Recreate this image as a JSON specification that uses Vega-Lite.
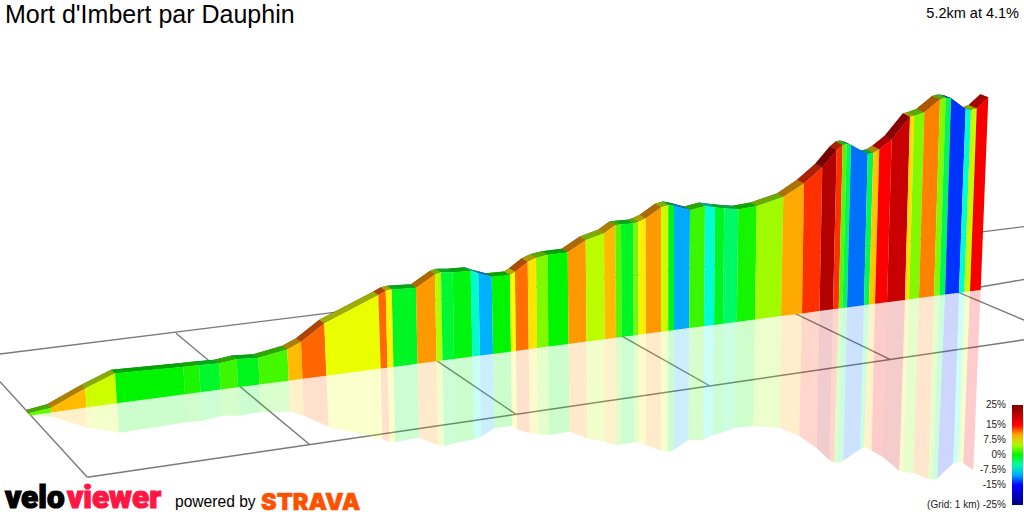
{"$schema":"https://vega.github.io/schema/vega-lite/v6.json","width":1024,"height":512,"padding":0,"autosize":"none","background":"#ffffff","config":{"view":{"stroke":null},"font":"Liberation Sans"},"title":{"text":"Mort d'Imbert par Dauphin","anchor":"start","frame":"group","offset":0,"dx":5,"dy":28,"fontSize":25,"fontWeight":"normal","font":"Liberation Sans","color":"#000000"},
"datasets":{"seg":[
{"s":0,"g":3,"x":[29,51,51.5,29.5],"y":[413,407.7,412.5,415.5],"rx":[29,51,47,26],"ry":[413,407.7,404.2,410],"fx":[29.5,51.5,52,30],"fy":[415.5,412.5,416.7,416]},
{"s":1,"g":9.5,"x":[51,85.3,86.5,51.5],"y":[407.7,388.3,407.5,412.5],"rx":[51,85.3,81.3,47],"ry":[407.7,388.3,384.8,404.2],"fx":[51.5,86.5,87.5,52],"fy":[412.5,407.5,427.7,416.7]},
{"s":2,"g":6,"x":[85.3,115,117,86.5],"y":[388.3,373.3,403.2,407.5],"rx":[85.3,115,111,81.3],"ry":[388.3,373.3,369.8,384.8],"fx":[86.5,117,119.3,87.5],"fy":[407.5,403.2,432.7,427.7]},
{"s":3,"g":0,"x":[115,183.3,185,117],"y":[373.3,366.7,394.2,403.2],"rx":[115,183.3,178.3,111],"ry":[373.3,366.7,363.2,369.8],"fx":[117,185,186.5,119.3],"fy":[403.2,394.2,422.3,432.7]},
{"s":4,"g":0.8,"x":[183.3,199,200.5,185],"y":[366.7,365,392.2,394.2],"rx":[183.3,199,194,178.3],"ry":[366.7,365,361.5,363.2],"fx":[185,200.5,202,186.5],"fy":[394.2,392.2,421,422.3]},
{"s":5,"g":-1.2,"x":[199,219,220.5,200.5],"y":[365,363.3,389.6,392.2],"rx":[199,219,214,194],"ry":[365,363.3,359.8,361.5],"fx":[200.5,220.5,222,202],"fy":[392.2,389.6,415.7,421]},
{"s":6,"g":1.8,"x":[219,236.7,238,220.5],"y":[363.3,359,387.3,389.6],"rx":[219,236.7,231.7,214],"ry":[363.3,359,355.5,359.8],"fx":[220.5,238,239.5,222],"fy":[389.6,387.3,415.7,415.7]},
{"s":7,"g":-0.8,"x":[236.7,258.3,259.5,238],"y":[359,357.7,384.5,387.3],"rx":[236.7,258.3,253.3,231.7],"ry":[359,357.7,354.2,355.5],"fx":[238,259.5,261,239.5],"fy":[387.3,384.5,412,415.7]},
{"s":8,"g":2,"x":[258.3,287.3,288.7,259.5],"y":[357.7,349.3,380.7,384.5],"rx":[258.3,287.3,282.3,253.3],"ry":[357.7,349.3,345.8,354.2],"fx":[259.5,288.7,290,261],"fy":[384.5,380.7,411.7,412]},
{"s":9,"g":9.5,"x":[287.3,301,302.6,288.7],"y":[349.3,341.7,378.8,380.7],"rx":[287.3,301,296,282.3],"ry":[349.3,341.7,338.2,345.8],"fx":[288.7,302.6,304,290],"fy":[380.7,378.8,415.7,411.7]},
{"s":10,"g":12,"x":[301,324.3,326.4,302.6],"y":[341.7,323.3,375.7,378.8],"rx":[301,324.3,319.3,296],"ry":[341.7,323.3,319.8,338.2],"fx":[302.6,326.4,328.5,304],"fy":[378.8,375.7,426.7,415.7]},
{"s":11,"g":6.9,"x":[324.3,378.3,380.7,326.4],"y":[323.3,295,368.6,375.7],"rx":[324.3,378.3,373.3,319.3],"ry":[323.3,295,291.5,319.8],"fx":[326.4,380.7,382.5,328.5],"fy":[375.7,368.6,439,426.7]},
{"s":12,"g":11.9,"x":[378.3,385.7,387.5,380.7],"y":[295,290.7,367.7,368.6],"rx":[378.3,385.7,380.7,373.3],"ry":[295,290.7,287.2,291.5],"fx":[380.7,387.5,389.5,382.5],"fy":[368.6,367.7,441.7,439]},
{"s":13,"g":7.8,"x":[385.7,391.7,393.5,387.5],"y":[290.7,289.3,366.9,367.7],"rx":[385.7,391.7,386.7,380.7],"ry":[290.7,289.3,285.8,287.2],"fx":[387.5,393.5,395,389.5],"fy":[367.7,366.9,442.3,441.7]},
{"s":14,"g":-1,"x":[391.7,416,417.5,393.5],"y":[289.3,287.7,363.8,366.9],"rx":[391.7,416,411,386.7],"ry":[289.3,287.7,284.2,285.8],"fx":[393.5,417.5,419,395],"fy":[366.9,363.8,437.7,442.3]},
{"s":15,"g":10.5,"x":[416,435,436.5,417.5],"y":[287.7,274.3,361.3,363.8],"rx":[416,435,430,411],"ry":[287.7,274.3,270.8,284.2],"fx":[417.5,436.5,438,419],"fy":[363.8,361.3,445,437.7]},
{"s":16,"g":5.3,"x":[435,441,442.5,436.5],"y":[274.3,272.3,360.5,361.3],"rx":[435,441,436,430],"ry":[274.3,272.3,268.8,270.8],"fx":[436.5,442.5,444.5,438],"fy":[361.3,360.5,446,445]},
{"s":17,"g":-1.5,"x":[441,452.7,454,442.5],"y":[272.3,272.3,359,360.5],"rx":[441,452.7,446.7,436],"ry":[272.3,272.3,268.8,268.8],"fx":[442.5,454,456,444.5],"fy":[360.5,359,442.7,446]},
{"s":18,"g":-0.5,"x":[452.7,470.7,472.5,454],"y":[272.3,270.7,356.6,359],"rx":[452.7,470.7,464.7,446.7],"ry":[272.3,270.7,267.2,268.8],"fx":[454,472.5,474,456],"fy":[359,356.6,439.3,442.7]},
{"s":19,"g":-6,"x":[470.7,478.3,480,472.5],"y":[270.7,273.3,355.6,356.6],"rx":[470.7,478.3,472.3,464.7],"ry":[270.7,273.3,269.8,267.2],"fx":[472.5,480,481,474],"fy":[356.6,355.6,436.7,439.3]},
{"s":20,"g":-9.8,"x":[478.3,491.7,493,480],"y":[273.3,276.7,353.9,355.6],"rx":[478.3,491.7,485.7,472.3],"ry":[273.3,276.7,273.2,269.8],"fx":[480,493,494,481],"fy":[355.6,353.9,428.3,436.7]},
{"s":21,"g":0,"x":[491.7,510,511,493],"y":[276.7,275,351.5,353.9],"rx":[491.7,510,504,485.7],"ry":[276.7,275,271.5,273.2],"fx":[493,511,512,494],"fy":[353.9,351.5,426,428.3]},
{"s":22,"g":7.5,"x":[510,515,516,511],"y":[275,271.7,350.9,351.5],"rx":[510,515,509,504],"ry":[275,271.7,268.2,271.5],"fx":[511,516,517,512],"fy":[351.5,350.9,429,426]},
{"s":23,"g":11.7,"x":[515,527.7,528.7,516],"y":[271.7,261.7,349.2,350.9],"rx":[515,527.7,521.7,509],"ry":[271.7,261.7,258.2,268.2],"fx":[516,528.7,529.7,517],"fy":[350.9,349.2,433.3,429]},
{"s":24,"g":8.3,"x":[527.7,536,537,528.7],"y":[261.7,257.7,348.1,349.2],"rx":[527.7,536,530,521.7],"ry":[261.7,257.7,254.2,258.2],"fx":[528.7,537,538,529.7],"fy":[349.2,348.1,434.3,433.3]},
{"s":25,"g":3.8,"x":[536,547.7,548.3,537],"y":[257.7,254.7,346.6,348.1],"rx":[536,547.7,541.7,530],"ry":[257.7,254.7,251.2,254.2],"fx":[537,548.3,549,538],"fy":[348.1,346.6,435,434.3]},
{"s":26,"g":0,"x":[547.7,567.7,568.5,548.3],"y":[254.7,252.3,344,346.6],"rx":[547.7,567.7,561.7,541.7],"ry":[254.7,252.3,248.8,251.2],"fx":[548.3,568.5,569.5,549],"fy":[346.6,344,431.7,435]},
{"s":27,"g":10.5,"x":[567.7,585.7,586.5,568.5],"y":[252.3,240,341.6,344],"rx":[567.7,585.7,579.7,561.7],"ry":[252.3,240,236.5,248.8],"fx":[568.5,586.5,587,569.5],"fy":[344,341.6,438.3,431.7]},
{"s":28,"g":5.5,"x":[585.7,604,604.7,586.5],"y":[240,233.3,339.2,341.6],"rx":[585.7,604,598,579.7],"ry":[240,233.3,229.8,236.5],"fx":[586.5,604.7,605,587],"fy":[341.6,339.2,441.7,438.3]},
{"s":29,"g":9.5,"x":[604,615.3,616,604.7],"y":[233.3,225,337.7,339.2],"rx":[604,615.3,609.3,598],"ry":[233.3,225,221.5,229.8],"fx":[604.7,616,616.5,605],"fy":[339.2,337.7,445,441.7]},
{"s":30,"g":2.5,"x":[615.3,621,621.5,616],"y":[225,224.3,337,337.7],"rx":[615.3,621,615,609.3],"ry":[225,224.3,220.8,221.5],"fx":[616,621.5,622,616.5],"fy":[337.7,337,444.3,445]},
{"s":31,"g":-1,"x":[621,633.3,633.7,621.5],"y":[224.3,223.3,335.4,337],"rx":[621,633.3,627.3,615],"ry":[224.3,223.3,219.8,220.8],"fx":[621.5,633.7,634,622],"fy":[337,335.4,442.3,444.3]},
{"s":32,"g":3.5,"x":[633.3,638.3,638.7,633.7],"y":[223.3,221.7,334.8,335.4],"rx":[633.3,638.3,632.3,627.3],"ry":[223.3,221.7,218.2,219.8],"fx":[633.7,638.7,639,634],"fy":[335.4,334.8,442.7,442.3]},
{"s":33,"g":8,"x":[638.3,645.7,646,638.7],"y":[221.7,218.3,333.8,334.8],"rx":[638.3,645.7,639.7,632.3],"ry":[221.7,218.3,214.8,218.2],"fx":[638.7,646,646,639],"fy":[334.8,333.8,445,442.7]},
{"s":34,"g":10.5,"x":[645.7,661,661,646],"y":[218.3,207.3,331.8,333.8],"rx":[645.7,661,655,639.7],"ry":[218.3,207.3,203.8,214.8],"fx":[646,661,661,646],"fy":[333.8,331.8,450.7,445]},
{"s":35,"g":6,"x":[661,668.3,668.3,661],"y":[207.3,205,330.9,331.8],"rx":[661,668.3,662.3,655],"ry":[207.3,205,201.5,203.8],"fx":[661,668.3,668,661],"fy":[331.8,330.9,451.7,450.7]},
{"s":36,"g":-0.8,"x":[668.3,674,674,668.3],"y":[205,205.7,330.1,330.9],"rx":[668.3,674,668,662.3],"ry":[205,205.7,202.2,201.5],"fx":[668.3,674,673.5,668],"fy":[330.9,330.1,450,451.7]},
{"s":37,"g":-10,"x":[674,690,689.3,674],"y":[205.7,210,328.1,330.1],"rx":[674,690,684,668],"ry":[205.7,210,206.5,202.2],"fx":[674,689.3,688.3,673.5],"fy":[330.1,328.1,440,450]},
{"s":38,"g":1.7,"x":[690,705,704,689.3],"y":[210,206,326.2,328.1],"rx":[690,705,699,684],"ry":[210,206,202.5,206.5],"fx":[689.3,704,703.3,688.3],"fy":[328.1,326.2,440,440]},
{"s":39,"g":-6.3,"x":[705,715,714,704],"y":[206,207.3,324.9,326.2],"rx":[705,715,709,699],"ry":[206,207.3,203.8,202.5],"fx":[704,714,712.7,703.3],"fy":[326.2,324.9,435,440]},
{"s":40,"g":-1,"x":[715,724.3,723,714],"y":[207.3,208.3,323.7,324.9],"rx":[715,724.3,718.3,709],"ry":[207.3,208.3,204.8,203.8],"fx":[714,723,722,712.7],"fy":[324.9,323.7,432.7,435]},
{"s":41,"g":-3,"x":[724.3,738.3,736.8,723],"y":[208.3,209.3,321.9,323.7],"rx":[724.3,738.3,732.3,718.3],"ry":[208.3,209.3,205.8,204.8],"fx":[723,736.8,735,722],"fy":[323.7,321.9,427.7,432.7]},
{"s":42,"g":0.6,"x":[738.3,756.7,755,736.8],"y":[209.3,206,319.5,321.9],"rx":[738.3,756.7,750.7,732.3],"ry":[209.3,206,202.5,205.8],"fx":[736.8,755,753.3,735],"fy":[321.9,319.5,426,427.7]},
{"s":43,"g":4.7,"x":[756.7,783.3,781,755],"y":[206,196.7,316.1,319.5],"rx":[756.7,783.3,777.3,750.7],"ry":[206,196.7,193.2,202.5],"fx":[755,781,780,753.3],"fy":[319.5,316.1,428.3,426]},
{"s":44,"g":10,"x":[783.3,804,802,781],"y":[196.7,183.3,313.4,316.1],"rx":[783.3,804,797,777.3],"ry":[196.7,183.3,179.8,193.2],"fx":[781,802,799.3,780],"fy":[316.1,313.4,436,428.3]},
{"s":45,"g":13.6,"x":[804,822.3,819.5,802],"y":[183.3,167.3,311.1,313.4],"rx":[804,822.3,815.3,797],"ry":[183.3,167.3,163.8,179.8],"fx":[802,819.5,816.7,799.3],"fy":[313.4,311.1,448.3,436]},
{"s":46,"g":21,"x":[822.3,836.7,833,819.5],"y":[167.3,150,309.3,311.1],"rx":[822.3,836.7,829.7,815.3],"ry":[167.3,150,146.5,163.8],"fx":[819.5,833,829.3,816.7],"fy":[311.1,309.3,460,448.3]},
{"s":47,"g":13.6,"x":[836.7,842.7,838.7,833],"y":[150,145,308.5,309.3],"rx":[836.7,842.7,835.7,829.7],"ry":[150,145,141.5,146.5],"fx":[833,838.7,834,829.3],"fy":[309.3,308.5,462.3,460]},
{"s":48,"g":2.5,"x":[842.7,846.7,842.5,838.7],"y":[145,144,308,308.5],"rx":[842.7,846.7,839.7,835.7],"ry":[145,144,140.5,141.5],"fx":[838.7,842.5,837.7,834],"fy":[308.5,308,462.7,462.3]},
{"s":49,"g":-2.5,"x":[846.7,851,847,842.5],"y":[144,145,307.4,308],"rx":[846.7,851,844,839.7],"ry":[144,145,141.5,140.5],"fx":[842.5,847,843.3,837.7],"fy":[308,307.4,460.7,462.7]},
{"s":50,"g":-11.7,"x":[851,867.7,864,847],"y":[145,154,305.2,307.4],"rx":[851,867.7,860.7,844],"ry":[145,154,150.5,141.5],"fx":[847,864,860,843.3],"fy":[307.4,305.2,449.3,460.7]},
{"s":51,"g":-2.5,"x":[867.7,873.3,869,864],"y":[154,152.7,304.6,305.2],"rx":[867.7,873.3,866.3,860.7],"ry":[154,152.7,149.2,150.5],"fx":[864,869,864,860],"fy":[305.2,304.6,446.7,449.3]},
{"s":52,"g":9.2,"x":[873.3,879.3,875,869],"y":[152.7,149.3,303.8,304.6],"rx":[873.3,879.3,872.3,866.3],"ry":[152.7,149.3,145.8,149.2],"fx":[869,875,871.7,864],"fy":[304.6,303.8,450.7,446.7]},
{"s":53,"g":15,"x":[879.3,891.7,887,875],"y":[149.3,139.3,302.2,303.8],"rx":[879.3,891.7,884.7,872.3],"ry":[149.3,139.3,135.8,145.8],"fx":[875,887,882.7,871.7],"fy":[303.8,302.2,457,450.7]},
{"s":54,"g":19.3,"x":[891.7,910,905,887],"y":[139.3,116.7,299.9,302.2],"rx":[891.7,910,903,884.7],"ry":[139.3,116.7,113.2,135.8],"fx":[887,905,899.3,882.7],"fy":[302.2,299.9,471,457]},
{"s":55,"g":8.5,"x":[910,914.3,909,905],"y":[116.7,115.7,299.3,299.9],"rx":[910,914.3,907.3,903],"ry":[116.7,115.7,112.2,113.2],"fx":[905,909,902.7,899.3],"fy":[299.9,299.3,472,471]},
{"s":56,"g":3.8,"x":[914.3,924.3,919,909],"y":[115.7,112.3,298,299.3],"rx":[914.3,924.3,916.3,907.3],"ry":[115.7,112.3,109,112.2],"fx":[909,919,913.3,902.7],"fy":[299.3,298,472.7,472]},
{"s":57,"g":11.2,"x":[924.3,940,934,919],"y":[112.3,99.3,296,298],"rx":[924.3,940,932,916.3],"ry":[112.3,99.3,96,109],"fx":[919,934,928.3,913.3],"fy":[298,296,479,472.7]},
{"s":58,"g":3.8,"x":[940,945.7,939.3,934],"y":[99.3,97.7,295.4,296],"rx":[940,945.7,937.7,932],"ry":[99.3,97.7,94.5,96],"fx":[934,939.3,932.7,928.3],"fy":[296,295.4,479.7,479]},
{"s":59,"g":-2.5,"x":[945.7,951,945,939.3],"y":[97.7,98.3,294.6,295.4],"rx":[945.7,951,943,937.7],"ry":[97.7,98.3,95,94.5],"fx":[939.3,945,937.3,932.7],"fy":[295.4,294.6,478.3,479.7]},
{"s":60,"g":-13.5,"x":[951,965.7,959,945],"y":[98.3,109.3,292.8,294.6],"rx":[951,965.7,957.7,943],"ry":[98.3,109.3,106,95],"fx":[945,959,953.3,937.3],"fy":[294.6,292.8,463.3,478.3]},
{"s":61,"g":-6,"x":[965.7,971,964.3,959],"y":[109.3,110,292.1,292.8],"rx":[965.7,971,963,957.7],"ry":[109.3,110,107,106],"fx":[959,964.3,958.3,953.3],"fy":[292.8,292.1,461.7,463.3]},
{"s":62,"g":5.7,"x":[971,976.7,970,964.3],"y":[110,108.3,291.3,292.1],"rx":[971,976.7,968.7,963],"ry":[110,108.3,105,107],"fx":[964.3,970,963.3,958.3],"fy":[292.1,291.3,463.3,461.7]},
{"s":63,"g":15.5,"x":[976.7,988.3,980.7,970],"y":[108.3,97.3,290,291.3],"rx":[976.7,988.3,980.3,968.7],"ry":[108.3,97.3,94.2,105],"fx":[970,980.7,973.3,963.3],"fy":[291.3,290,470,463.3]}
],
"grid":[
{"x":0,"y":354,"x2":1024,"y2":226.6},
{"x":87.3,"y":477.3,"x2":1024,"y2":339.8},
{"x":0,"y":381.7,"x2":87.3,"y2":477.3},
{"x":176,"y":333.3,"x2":309.3,"y2":444.3},
{"x":436.7,"y":360.7,"x2":516,"y2":414.3},
{"x":621,"y":335.7,"x2":710,"y2":386},
{"x":793.3,"y":312.7,"x2":890,"y2":359.3},
{"x":956.7,"y":291.7,"x2":1024,"y2":320},
{"x":960,"y":290.5,"x2":1024,"y2":279.5}
]},
"encoding":{"x":{"type":"quantitative","scale":{"domain":[0,1024],"range":[0,1024],"nice":false,"zero":false},"axis":null},"y":{"type":"quantitative","scale":{"domain":[0,512],"range":[0,512],"nice":false,"zero":false},"axis":null}},
"layer":[
{"data":{"name":"grid"},"mark":{"type":"rule","color":"#7a7a7a","strokeWidth":1.4},"encoding":{"x":{"field":"x","type":"quantitative"},"y":{"field":"y","type":"quantitative"},"x2":{"field":"x2"},"y2":{"field":"y2"}}},
{"data":{"name":"seg"},"transform":[{"flatten":["fx","fy"],"as":["px","py"]},{"window":[{"op":"row_number","as":"o"}]}],"mark":{"type":"line","filled":true,"fillOpacity":0.2,"strokeWidth":0},"encoding":{"x":{"field":"px","type":"quantitative"},"y":{"field":"py","type":"quantitative"},"detail":{"field":"s"},"order":{"field":"o"},"color":{"field":"g","type":"quantitative"}}},
{"data":{"name":"seg"},"transform":[{"flatten":["rx","ry"],"as":["px","py"]},{"window":[{"op":"row_number","as":"o"}]}],"mark":{"type":"line","filled":true,"color":"#000000","strokeWidth":0},"encoding":{"x":{"field":"px","type":"quantitative"},"y":{"field":"py","type":"quantitative"},"detail":{"field":"s"},"order":{"field":"o"}}},
{"data":{"name":"seg"},"transform":[{"flatten":["rx","ry"],"as":["px","py"]},{"window":[{"op":"row_number","as":"o"}]}],"mark":{"type":"line","filled":true,"fillOpacity":0.68,"strokeWidth":0},"encoding":{"x":{"field":"px","type":"quantitative"},"y":{"field":"py","type":"quantitative"},"detail":{"field":"s"},"order":{"field":"o"},"color":{"field":"g","type":"quantitative"}}},
{"data":{"name":"seg"},"transform":[{"flatten":["x","y"],"as":["px","py"]},{"window":[{"op":"row_number","as":"o"}]}],"mark":{"type":"line","filled":true,"strokeWidth":0},"encoding":{"x":{"field":"px","type":"quantitative"},"y":{"field":"py","type":"quantitative"},"detail":{"field":"s"},"order":{"field":"o"},"color":{"field":"g","type":"quantitative","title":null,"scale":{"type":"linear","interpolate":"rgb","domain":[-25,-15,-7.5,0,7.5,15,25],"range":["#000080","#0000ff","#00ffff","#00f500","#ffff00","#ff0000","#800000"]},"legend":{"type":"gradient","orient":"none","legendX":1012,"legendY":405,"gradientLength":100,"gradientThickness":11,"gradientStrokeWidth":0,"values":[-25,25],"labelOverlap":false,"labelFontSize":1,"labelOpacity":0,"labelExpr":"''"}}}},
{"data":{"values":[{"t":"25%","x":1006,"y":405},{"t":"15%","x":1006,"y":425},{"t":"7.5%","x":1006,"y":440},{"t":"0%","x":1006,"y":455},{"t":"-7.5%","x":1006,"y":470},{"t":"-15%","x":1006,"y":485},{"t":"(Grid: 1 km) -25%","x":1006,"y":505}]},"mark":{"type":"text","align":"right","baseline":"middle","fontSize":10,"font":"Liberation Sans","color":"#222222"},"encoding":{"x":{"field":"x","type":"quantitative"},"y":{"field":"y","type":"quantitative"},"text":{"field":"t"}}},
{"data":{"values":[{"t":"5.2km at 4.1%","x":1019,"y":18}]},"mark":{"type":"text","align":"right","baseline":"alphabetic","fontSize":14.5,"font":"Liberation Sans","color":"#000000"},"encoding":{"x":{"field":"x","type":"quantitative"},"y":{"field":"y","type":"quantitative"},"text":{"field":"t"}}},
{"data":{"values":[{"t":"powered by","x":175,"y":507}]},"mark":{"type":"text","align":"left","baseline":"alphabetic","fontSize":15.6,"font":"Liberation Sans","color":"#000000"},"encoding":{"x":{"field":"x","type":"quantitative"},"y":{"field":"y","type":"quantitative"},"text":{"field":"t"}}},
{"data":{"values":[{"t":"velo","x":5,"y":508}]},"mark":{"type":"text","align":"left","baseline":"alphabetic","fontSize":31.5,"font":"Roboto","fontWeight":900,"color":"#000000","stroke":"#000000","strokeWidth":1.2},"encoding":{"x":{"field":"x","type":"quantitative"},"y":{"field":"y","type":"quantitative"},"text":{"field":"t"}}},
{"data":{"values":[{"t":"viewer","x":67,"y":508}]},"mark":{"type":"text","align":"left","baseline":"alphabetic","fontSize":31.5,"font":"Roboto","fontWeight":900,"color":"#ff1744","stroke":"#ff1744","strokeWidth":1.2},"encoding":{"x":{"field":"x","type":"quantitative"},"y":{"field":"y","type":"quantitative"},"text":{"field":"t"}}},
{"data":{"values":[{"t":"STRAVA","x":261,"y":509.5}]},"mark":{"type":"text","align":"left","baseline":"alphabetic","fontSize":23.5,"font":"Inter","fontWeight":900,"color":"#fc5200","stroke":"#fc5200","strokeWidth":0.5},"encoding":{"x":{"field":"x","type":"quantitative"},"y":{"field":"y","type":"quantitative"},"text":{"field":"t"}}}
]}
